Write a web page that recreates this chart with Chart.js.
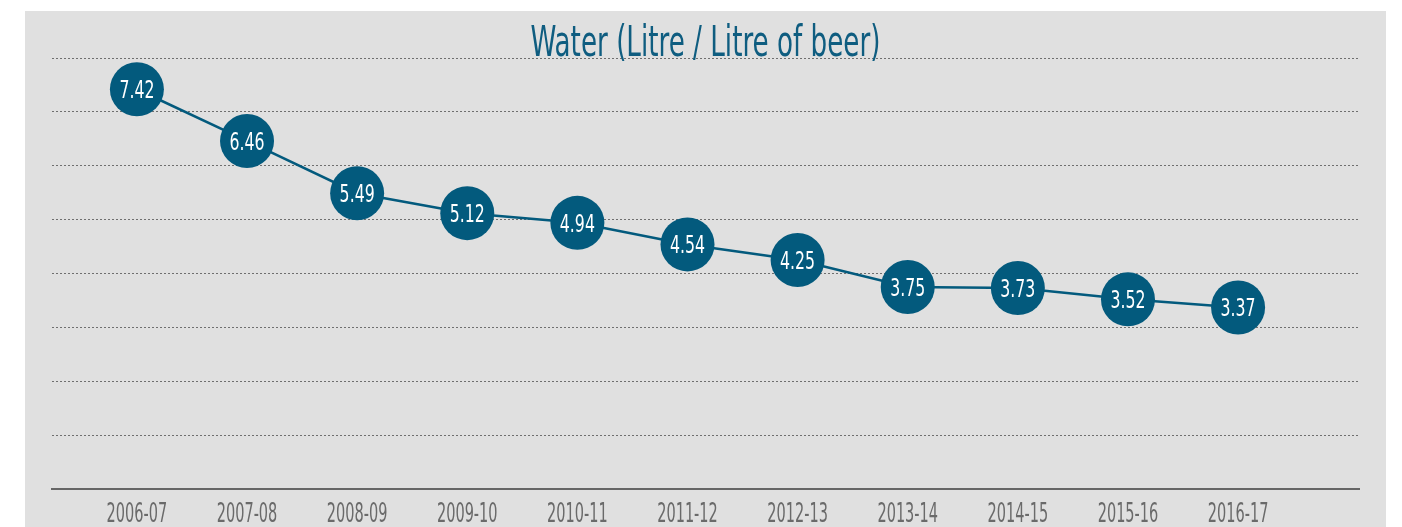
<!DOCTYPE html>
<html>
<head>
<meta charset="utf-8">
<script src="https://cdn.jsdelivr.net/npm/chart.js@4.4.1/dist/chart.umd.min.js"></script>
<style>
  html, body { margin: 0; padding: 0; background: #ffffff; }
  #panel {
    position: absolute;
    left: 25px;
    top: 11px;
    width: 1361px;
    height: 516px;
    background: #e0e0e0;
  }
</style>
</head>
<body>
<div id="panel"><canvas id="graficoAgua"></canvas></div>
<script>
const anos = ["2006-07", "2007-08", "2008-09", "2009-10", "2010-11", "2011-12",
  "2012-13", "2013-14", "2014-15", "2015-16", "2016-17"];
const litrosAgua = [7.42, 6.46, 5.49, 5.12, 4.94, 4.54, 4.25, 3.75, 3.73, 3.52, 3.37];
const tituloTexto = "Water (Litre / Litre of beer)";

const azul = "#035a7d";
const fonteEstreita = "'DejaVu Sans Condensed', 'DejaVu Sans', sans-serif";

// escreve texto comprimido na horizontal (a fonte original e bem estreita)
function textoEstreito(ctx, texto, x, y, escala) {
  ctx.save();
  ctx.translate(x, y);
  ctx.scale(escala, 1);
  ctx.fillText(texto, 0, 0);
  ctx.restore();
}

// titulo desenhado por cima da grade (no original ele cruza a primeira linha)
const tituloPlugin = {
  id: "tituloAgua",
  afterDraw(chart) {
    const ctx = chart.ctx;
    ctx.save();
    ctx.font = "42px " + fonteEstreita;
    ctx.fillStyle = "#0f5d80";
    ctx.textAlign = "center";
    ctx.textBaseline = "alphabetic";
    const w = ctx.measureText(tituloTexto).width;
    textoEstreito(ctx, tituloTexto, chart.width / 2, 45, Math.min(1, 350 / w));
    ctx.restore();
  },
};

// rotulos do eixo x e valores dentro dos circulos
const rotulosPlugin = {
  id: "rotulosAgua",
  afterDatasetsDraw(chart) {
    const ctx = chart.ctx;
    const meta = chart.getDatasetMeta(0);
    const escalaX = chart.scales.x;
    ctx.save();
    ctx.textAlign = "center";
    ctx.textBaseline = "alphabetic";

    ctx.font = "25px " + fonteEstreita;
    ctx.fillStyle = "#ffffff";
    meta.data.forEach((pt, i) => {
      textoEstreito(ctx, litrosAgua[i].toFixed(2), pt.x, pt.y + 9, 0.7);
    });

    ctx.font = "26px " + fonteEstreita;
    ctx.fillStyle = "#6a6a6a";
    anos.forEach((ano, i) => {
      textoEstreito(ctx, ano, escalaX.getPixelForValue(i), chart.chartArea.bottom + 33, 0.62);
    });
    ctx.restore();
  },
};

new Chart(document.getElementById("graficoAgua"), {
  type: "line",
  data: {
    datasets: [
      {
        label: "Water",
        data: litrosAgua.map((v, i) => ({ x: i, y: v })),
        borderColor: azul,
        borderWidth: 2.5,
        backgroundColor: azul,
        pointBackgroundColor: azul,
        pointBorderWidth: 0,
        pointRadius: 27,
        pointHoverRadius: 27,
        tension: 0,
        clip: false,
      },
    ],
  },
  options: {
    responsive: true,
    maintainAspectRatio: false,
    animation: false,
    layout: { padding: { left: 25, right: 27, top: 47, bottom: 0 } },
    plugins: {
      legend: { display: false },
      title: { display: false },
      tooltip: { enabled: false },
    },
    scales: {
      x: {
        type: "linear",
        min: -0.771,
        max: 11.098,
        grid: { display: false, drawTicks: false },
        border: { display: true, color: "#666666", width: 2 },
        afterBuildTicks: (s) => { s.ticks = anos.map((_, i) => ({ value: i })); },
        afterFit: (s) => { s.height = 38; },
        ticks: { display: false },
      },
      y: {
        min: 0,
        max: 8,
        afterFit: (s) => { s.width = 0; },
        ticks: { display: false, stepSize: 1 },
        border: { display: false, dash: [2, 2] },
        grid: { color: "#6f6f6f", lineWidth: 1, drawTicks: false },
      },
    },
  },
  plugins: [tituloPlugin, rotulosPlugin],
});
</script>
</body>
</html>
